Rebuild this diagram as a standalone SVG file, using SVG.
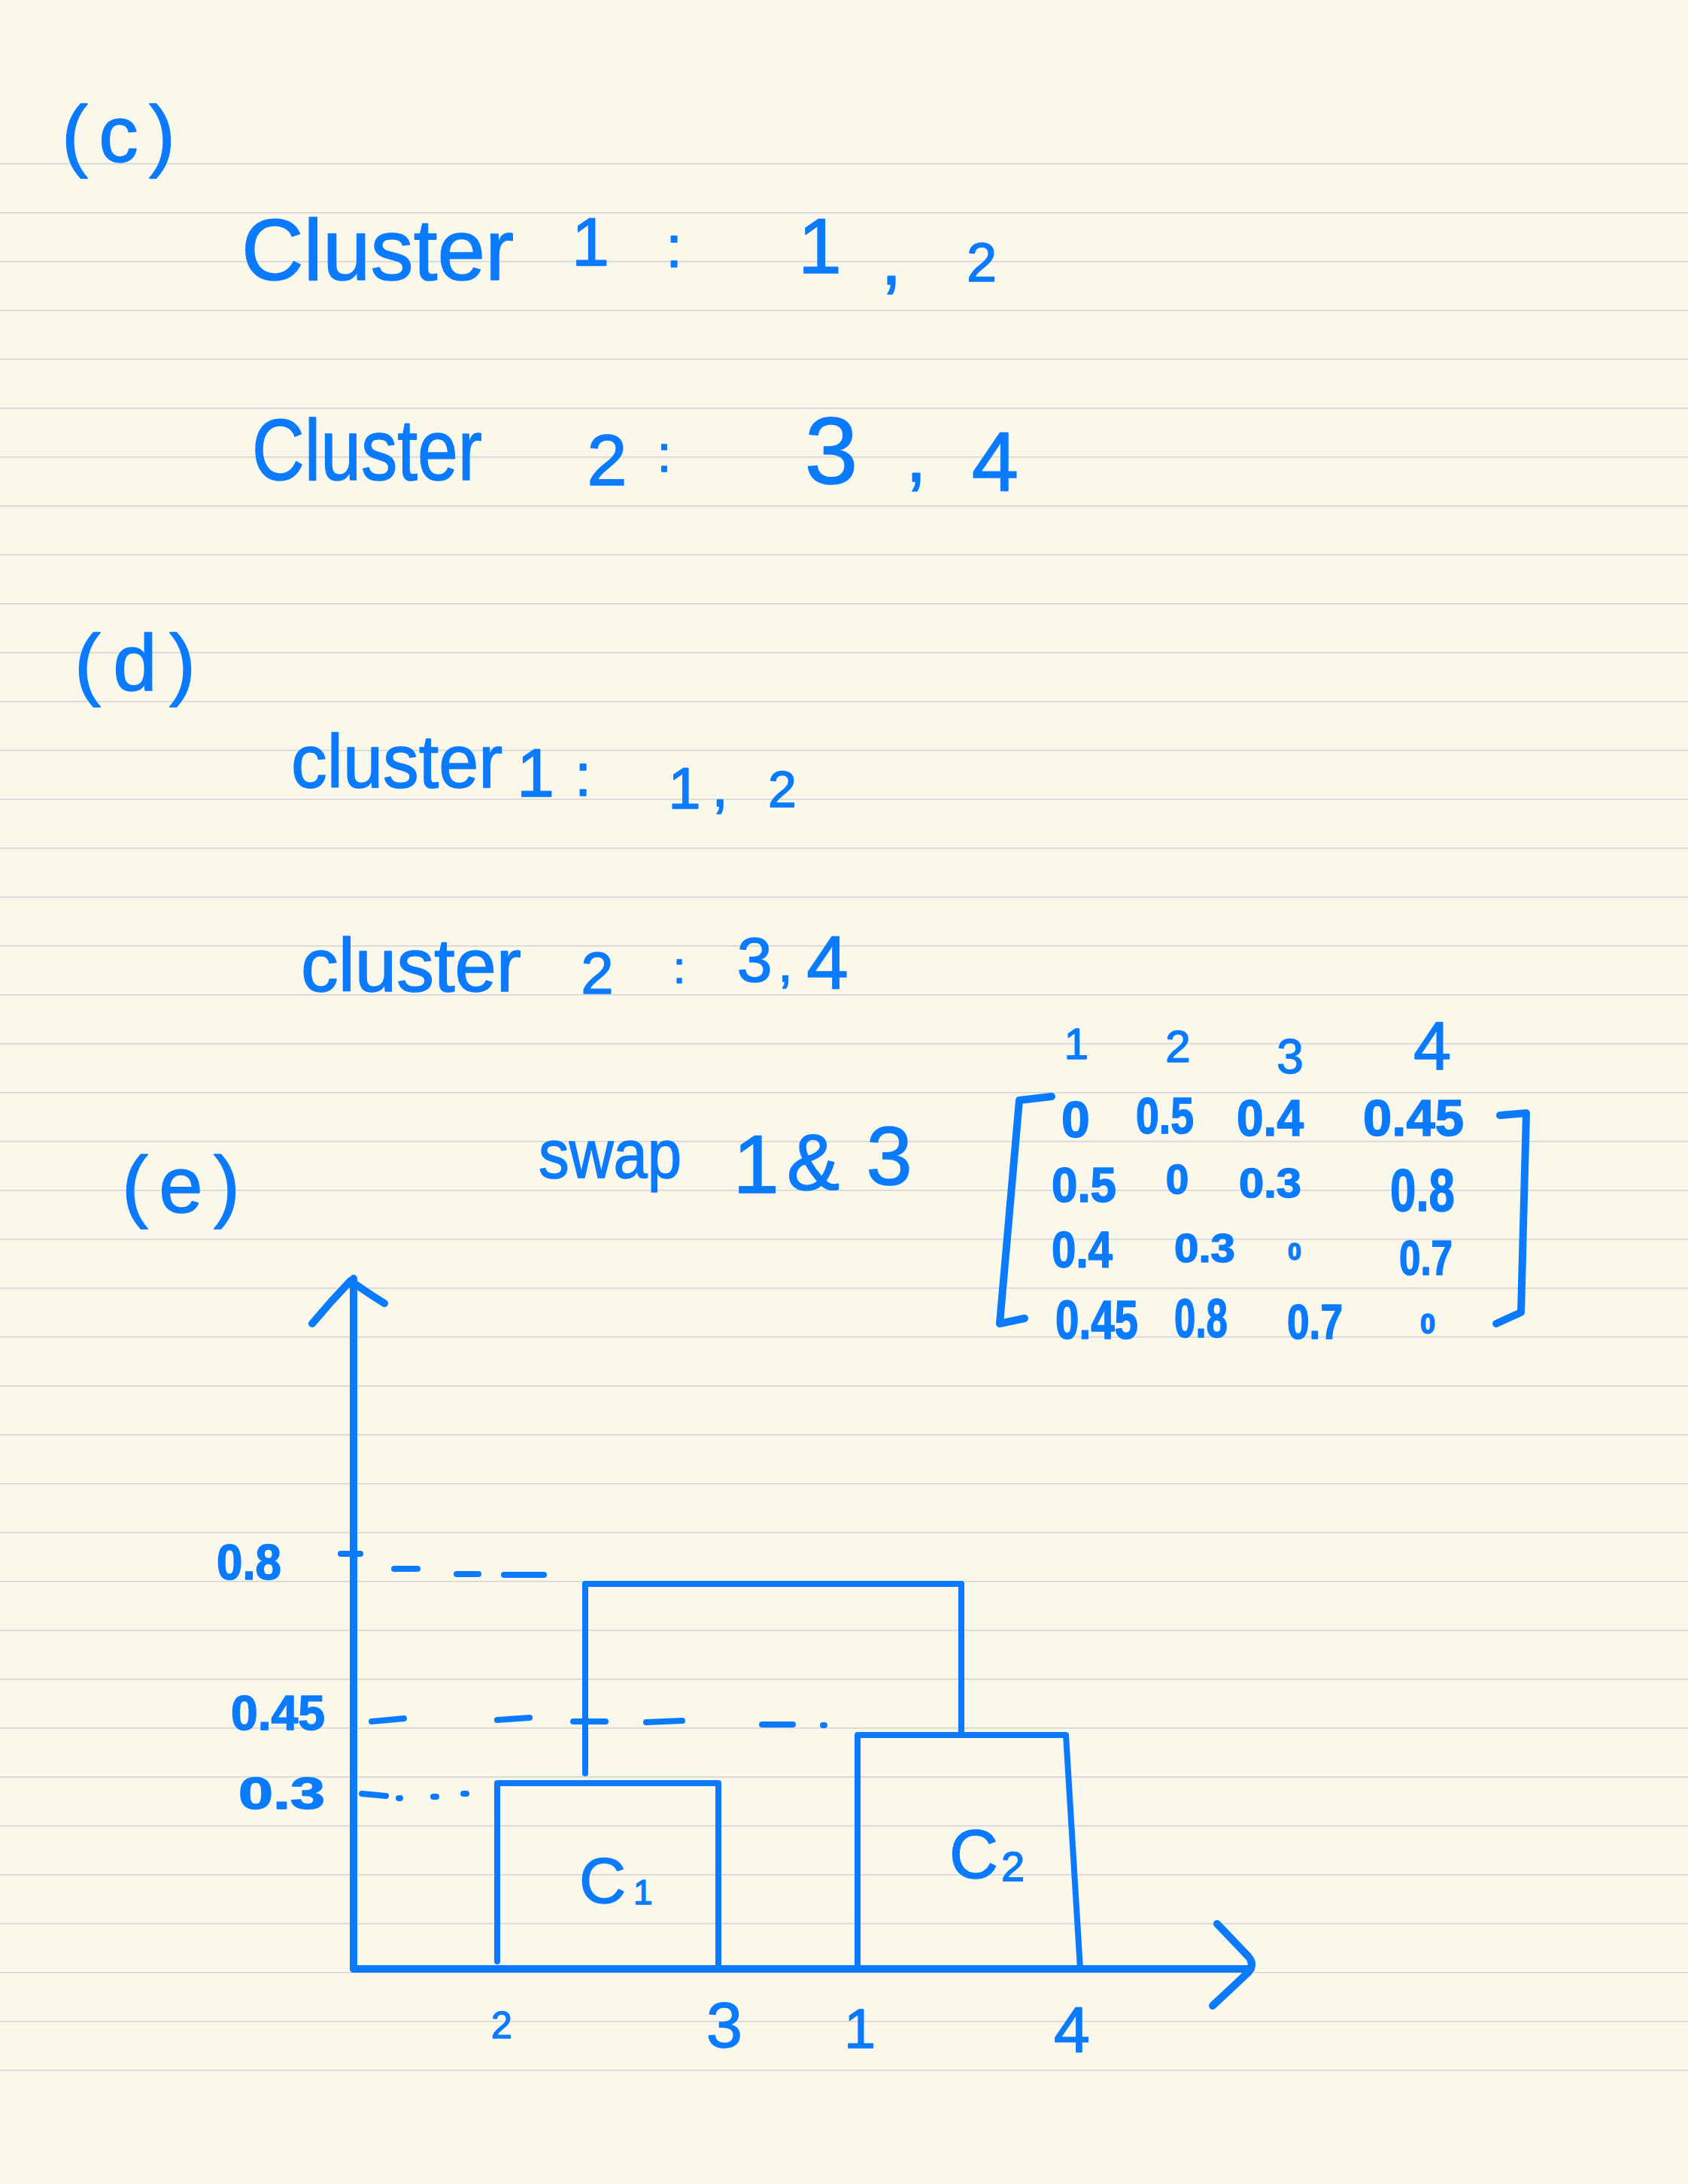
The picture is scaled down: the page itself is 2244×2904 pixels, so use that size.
<svg xmlns="http://www.w3.org/2000/svg" width="2244" height="2904" viewBox="0 0 2244 2904">
<style>
.t{font-family:"Liberation Sans","Noto Sans",sans-serif;fill:#0a7bff;stroke:#0a7bff;stroke-width:1.5;stroke-linejoin:round}
.m{font-family:"Liberation Sans","Noto Sans",sans-serif;font-weight:bold;fill:#0a7bff;stroke:#0a7bff;stroke-width:1.5;stroke-linejoin:round}
.c{text-anchor:middle}
.ink{fill:none;stroke:#0a7bff;stroke-linecap:round;stroke-linejoin:round}
.rule{stroke:#d3d3d1;stroke-width:3}
</style>
<defs>
<pattern id="ruled" x="0" y="217" width="2244" height="65" patternUnits="userSpaceOnUse">
<line class="rule" x1="0" y1="0" x2="2244" y2="0"/>
</pattern>
</defs>
<rect width="2244" height="2904" fill="#faf8eb"/>
<rect x="0" y="215" width="2244" height="2540" fill="url(#ruled)"/>

<g id="section-c">
<text class="t" x="82" y="215" font-size="105" textLength="151" lengthAdjust="spacing">(c)</text>
<text class="t" x="321" y="372" font-size="115" textLength="362" lengthAdjust="spacingAndGlyphs">Cluster</text>
<text class="t c" x="785" y="353" font-size="90">1</text>
<text class="t c" x="896" y="355" font-size="78">:</text>
<text class="t c" x="1090" y="363" font-size="104">1</text>
<text class="t c" x="1185" y="378" font-size="100">,</text>
<text class="t c" x="1305" y="374" font-size="72">2</text>
<text class="t" x="335" y="638" font-size="115" textLength="306" lengthAdjust="spacingAndGlyphs">Cluster</text>
<text class="t c" x="807" y="645" font-size="96">2</text>
<text class="t c" x="883" y="627" font-size="68">:</text>
<text class="t c" x="1105" y="643" font-size="127">3</text>
<text class="t c" x="1218" y="640" font-size="100">,</text>
<text class="t c" x="1323" y="652" font-size="112">4</text>
</g>

<g id="section-d">
<text class="t" x="99" y="918" font-size="105" textLength="161" lengthAdjust="spacing">(d)</text>
<text class="t" x="387" y="1047" font-size="100" textLength="281" lengthAdjust="spacingAndGlyphs">cluster</text>
<text class="t c" x="712" y="1059" font-size="90">1</text>
<text class="t c" x="775" y="1058" font-size="80">:</text>
<text class="t c" x="910" y="1075" font-size="78">1</text>
<text class="t c" x="957" y="1072" font-size="80">,</text>
<text class="t c" x="1040" y="1073" font-size="68">2</text>
<text class="t" x="400" y="1318" font-size="100" textLength="293" lengthAdjust="spacingAndGlyphs">cluster</text>
<text class="t c" x="794" y="1321" font-size="78">2</text>
<text class="t c" x="903" y="1307" font-size="60">:</text>
<text class="t c" x="1003" y="1305" font-size="84">3</text>
<text class="t c" x="1044" y="1305" font-size="70">,</text>
<text class="t c" x="1100" y="1315" font-size="100">4</text>
</g>

<g id="section-e-title">
<text class="t" x="162" y="1612" font-size="105" textLength="157" lengthAdjust="spacing">(e)</text>
<text class="t" x="716" y="1566" font-size="90" textLength="190" lengthAdjust="spacingAndGlyphs">swap</text>
<text class="t c" x="1005" y="1586" font-size="110">1</text>
<text class="t c" x="1081" y="1582" font-size="105">&amp;</text>
<text class="t c" x="1182" y="1575" font-size="110">3</text>
</g>

<g id="matrix">
<g id="matrix-header">
<text class="t c" x="1431" y="1408" font-size="58">1</text>
<text class="t c" x="1566" y="1412" font-size="60">2</text>
<text class="t c" x="1715" y="1427" font-size="64">3</text>
<text class="t c" x="1904" y="1422" font-size="90">4</text>
</g>
<g id="matrix-bracket-left"><path class="ink" stroke-width="10" d="M1398,1458 L1355,1463 L1329,1760 L1362,1753"/></g>
<g id="matrix-bracket-right"><path class="ink" stroke-width="10" d="M1994,1483 L2029,1480 L2022,1745 L1989,1760"/></g>
<g id="matrix-entries">
<text class="m c" x="1430" y="1512" font-size="68">0</text>
<text class="m" x="1510" y="1507" font-size="68" textLength="77" lengthAdjust="spacingAndGlyphs">0.5</text>
<text class="m" x="1644" y="1510" font-size="68" textLength="89" lengthAdjust="spacingAndGlyphs">0.4</text>
<text class="m" x="1812" y="1510" font-size="68" textLength="134" lengthAdjust="spacingAndGlyphs">0.45</text>

<text class="m" x="1398" y="1598" font-size="64" textLength="86" lengthAdjust="spacingAndGlyphs">0.5</text>
<text class="m c" x="1565" y="1587" font-size="55">0</text>
<text class="m" x="1647" y="1592" font-size="56" textLength="83" lengthAdjust="spacingAndGlyphs">0.3</text>
<text class="m" x="1848" y="1610" font-size="80" textLength="86" lengthAdjust="spacingAndGlyphs">0.8</text>

<text class="m" x="1398" y="1685" font-size="68" textLength="81" lengthAdjust="spacingAndGlyphs">0.4</text>
<text class="m" x="1561" y="1678" font-size="54" textLength="81" lengthAdjust="spacingAndGlyphs">0.3</text>
<text class="m c" x="1721" y="1675" font-size="32">0</text>
<text class="m" x="1860" y="1695" font-size="64" textLength="71" lengthAdjust="spacingAndGlyphs">0.7</text>

<text class="m" x="1403" y="1780" font-size="72" textLength="110" lengthAdjust="spacingAndGlyphs">0.45</text>
<text class="m" x="1561" y="1778" font-size="72" textLength="71" lengthAdjust="spacingAndGlyphs">0.8</text>
<text class="m" x="1711" y="1780" font-size="64" textLength="74" lengthAdjust="spacingAndGlyphs">0.7</text>
<text class="m c" x="1898" y="1773" font-size="36">0</text>
</g>
</g>

<g id="chart-labels">
<text class="m" x="288" y="2100" font-size="66" textLength="86" lengthAdjust="spacingAndGlyphs">0.8</text>
<text class="m" x="307" y="2300" font-size="64" textLength="125" lengthAdjust="spacingAndGlyphs">0.45</text>
<text class="m" x="317" y="2405" font-size="60" textLength="115" lengthAdjust="spacingAndGlyphs">0.3</text>
<text class="t c" x="667" y="2710" font-size="50">2</text>
<text class="t c" x="963" y="2722" font-size="86">3</text>
<text class="t c" x="1143" y="2723" font-size="75">1</text>
<text class="t c" x="1425" y="2728" font-size="86">4</text>
<text class="t" x="770" y="2530" font-size="86">C<tspan font-size="46" dx="10" dy="2">1</tspan></text>
<text class="t" x="1262" y="2497" font-size="90">C<tspan font-size="56" dx="4" dy="4">2</tspan></text>
</g>

<g id="connectors">
<g id="y-axis"><path class="ink" stroke-width="10" d="M470,2618 V1700 M415,1760 Q440,1730 466,1703 Q490,1720 511,1733"/></g>
<g id="x-axis"><path class="ink" stroke-width="10" d="M470,2618 H1663 M1618,2558 L1660,2602 Q1668,2612 1660,2622 L1612,2667"/></g>
<g id="cluster-c1"><path class="ink" stroke-width="8" d="M661,2608 V2371 H955 V2618"/></g>
<g id="cluster-c2"><path class="ink" stroke-width="8" d="M1140,2618 V2307 H1417 L1436,2618"/></g>
<g id="merge"><path class="ink" stroke-width="8" d="M778,2358 V2106 H1278 V2302"/></g>
<g id="guide-08"><path class="ink" stroke-width="8" d="M453,2066 H479 M524,2086 H555 M607,2093 H636 M670,2094 H723"/></g>
<g id="guide-045"><path class="ink" stroke-width="8" d="M494,2289 L537,2285 M661,2287 L704,2284 M762,2289 H805 M859,2290 L907,2288 M1013,2293 H1054 M1094,2294 H1096"/></g>
<g id="guide-03"><path class="ink" stroke-width="8" d="M481,2385 L513,2388 M530,2391 H532 M576,2389 H580 M616,2385 H620"/></g>
</g>
</svg>
